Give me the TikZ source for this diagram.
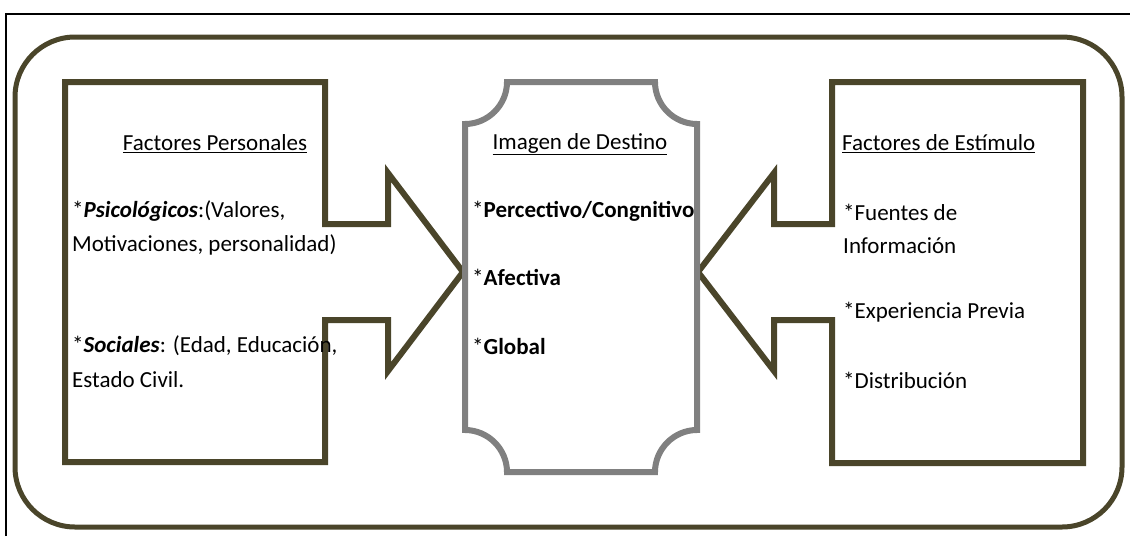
\documentclass[tikz,border=0pt]{standalone}
\usepackage{fontspec}
\setmainfont{Carlito}
\definecolor{marco}{RGB}{74,69,42}
\definecolor{placa}{RGB}{128,128,128}
\begin{document}
\begin{tikzpicture}[x=1pt, y=-1pt,
    txt/.style={font=\fontsize{23}{33}\selectfont, anchor=west, inner sep=0pt, align=left},
    titulo/.style={txt, anchor=center, align=center},
    caja/.style={draw=marco, line width=6pt}]
        \useasboundingbox (0,0) rectangle (1130,536);

        % Frame
        \draw[black, line width=1.5pt] (6,536) -- (6,14) -- (1130,14);
        \draw[marco, line width=5pt, rounded corners=60pt] (15,37) rectangle (1122,527);

        % Left callout
        \draw[caja] (65,82) -- (325,82) -- (325,224) -- (388,224) -- (388,173)
            -- (463,272) -- (388,371) -- (388,320) -- (325,320) -- (325,462)
            -- (65,462) -- cycle;

        % Right callout
        \draw[caja] (1083,82) -- (832,82) -- (832,224) -- (774,224) -- (774,173)
            -- (698,272) -- (774,371) -- (774,320) -- (832,320) -- (832,463)
            -- (1083,463) -- cycle;

        % Plaque in the middle
        \draw[placa, fill=white, line width=6pt] (507,82) -- (655,82)
            .. controls (655,105) and (674,124) .. (697,124) -- (697,430)
            .. controls (674,430) and (655,449) .. (655,472) -- (507,472)
            .. controls (507,449) and (488,430) .. (465,430) -- (465,124)
            .. controls (488,124) and (507,105) .. (507,82) -- cycle;

        % Personal factors
        \node[titulo] (personales) at (215,144) {\underline{Factores Personales}};
        \node[txt] (psico) at (72,211) {*\textbf{\textit{Psicológicos}}:(Valores,};
        \node[txt] (motiv) at (72,245) {Motivaciones, personalidad)};
        \node[txt] (sociales) at (72,346) {*\textbf{\textit{Sociales}}: (Edad, Educación,};
        \node[txt] (estado) at (72,380) {Estado Civil.};

        % Destination image
        \node[titulo] (imagen) at (580,144) {\underline{Imagen de Destino}};
        \node[txt] (percep) at (472,211) {*\textbf{Percectivo/Congnitivo}};
        \node[txt] (afect) at (472,277) {*\textbf{Afectiva}};
        \node[txt] (global) at (472,346) {*\textbf{Global}};

        % Stimulus factors
        \node[txt] (estimulo) at (842,144) {\underline{Factores de Estímulo}};
        \node[txt] (fuentes) at (843,212) {*Fuentes de};
        \node[txt] (info) at (843,246) {Información};
        \node[txt] (exper) at (843,312) {*Experiencia Previa};
        \node[txt] (distr) at (843,380) {*Distribución};
    \end{tikzpicture}
\end{document}
